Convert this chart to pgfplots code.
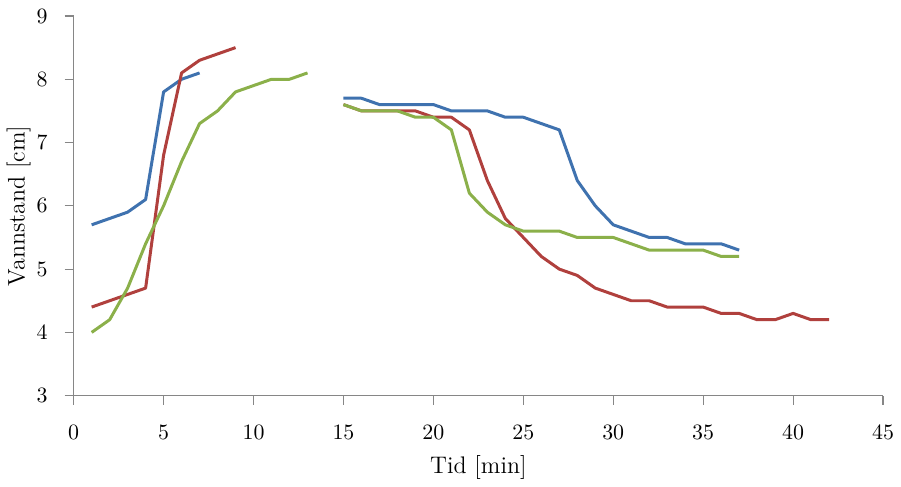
\documentclass[border=0pt]{standalone}
\usepackage{pgfplots}
\pgfplotsset{compat=1.18}
\definecolor{axisgray}{HTML}{868686}
\definecolor{sblue}{HTML}{3F72AF}
\definecolor{sred}{HTML}{B0403D}
\definecolor{sgreen}{HTML}{8BB04A}
\begin{document}
\begin{tikzpicture}
\begin{axis}[
    scale only axis,
    width=405pt, height=190pt,
    xmin=0, xmax=45, ymin=3, ymax=9,
    axis lines*=left,
    axis line style={draw=axisgray, line width=0.6pt},
    every tick/.style={draw=axisgray, line width=0.6pt},
    tick align=outside,
    major tick length=4.5pt,
    xtick={0,5,...,45},
    ytick={3,4,...,9},
    tick label style={font=\fontsize{11}{13}\selectfont},
    label style={font=\fontsize{12}{14}\selectfont},
    xticklabel style={yshift=-7pt},
    yticklabel style={xshift=-5pt},
    xlabel={Tid [min]},
    ylabel={Vannstand [cm]},
    xlabel style={at={(axis description cs:0.5,-0.19)}, anchor=center},
    ylabel style={at={(axis description cs:-0.068,0.5)}, anchor=center, rotate=0},
    clip=false,
    every axis plot/.append style={line width=1.5pt, line join=round, no markers},
]
% first segments
\addplot[sblue] coordinates {(1,5.7)(2,5.8)(3,5.9)(4,6.1)(5,7.8)(6,8.0)(7,8.1)};
\addplot[sred] coordinates {(1,4.4)(2,4.5)(3,4.6)(4,4.7)(5,6.8)(6,8.1)(7,8.3)(8,8.4)(9,8.5)};
\addplot[sgreen] coordinates {(1,4.0)(2,4.2)(3,4.7)(4,5.4)(5,6.0)(6,6.7)(7,7.3)(8,7.5)(9,7.8)(10,7.9)(11,8.0)(12,8.0)(13,8.1)};
% second segments
\addplot[sblue] coordinates {(15,7.7)(16,7.7)(17,7.6)(18,7.6)(19,7.6)(20,7.6)(21,7.5)(22,7.5)(23,7.5)(24,7.4)(25,7.4)(26,7.3)(27,7.2)(28,6.4)(29,6.0)(30,5.7)(31,5.6)(32,5.5)(33,5.5)(34,5.4)(35,5.4)(36,5.4)(37,5.3)};
\addplot[sred] coordinates {(15,7.6)(16,7.5)(17,7.5)(18,7.5)(19,7.5)(20,7.4)(21,7.4)(22,7.2)(23,6.4)(24,5.8)(25,5.5)(26,5.2)(27,5.0)(28,4.9)(29,4.7)(30,4.6)(31,4.5)(32,4.5)(33,4.4)(34,4.4)(35,4.4)(36,4.3)(37,4.3)(38,4.2)(39,4.2)(40,4.3)(41,4.2)(42,4.2)};
\addplot[sgreen] coordinates {(15,7.6)(16,7.5)(17,7.5)(18,7.5)(19,7.4)(20,7.4)(21,7.2)(22,6.2)(23,5.9)(24,5.7)(25,5.6)(26,5.6)(27,5.6)(28,5.5)(29,5.5)(30,5.5)(31,5.4)(32,5.3)(33,5.3)(34,5.3)(35,5.3)(36,5.2)(37,5.2)};
\end{axis}
\useasboundingbox (current axis.south west) ++(-36.5pt,-43pt) rectangle ([shift={(9pt,8pt)}]current axis.north east);
\end{tikzpicture}
\end{document}
